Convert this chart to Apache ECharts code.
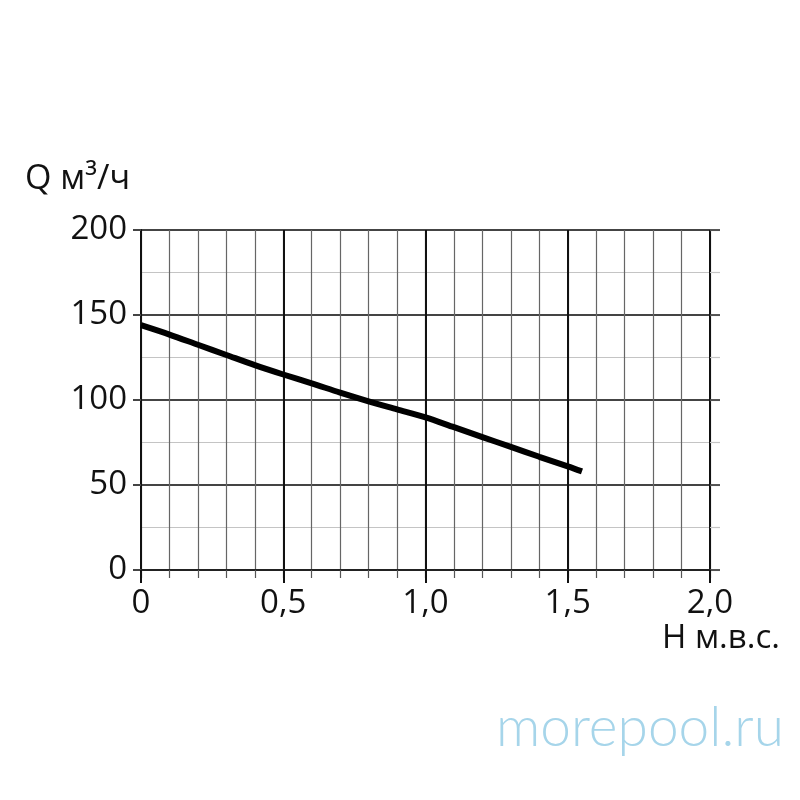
<!DOCTYPE html>
<html>
<head>
<meta charset="utf-8">
<script src="https://cdn.jsdelivr.net/npm/echarts@6/dist/echarts.min.js"></script>
<style>
  html, body { margin: 0; padding: 0; background: #fff; }
  #chart { width: 800px; height: 800px; }
</style>
</head>
<body>
<div id="chart"></div>
<script>
// напор, м в.с.
var heads = [0, 0.1, 0.2, 0.3, 0.4, 0.5, 0.6, 0.7, 0.8, 0.9, 1.0, 1.1, 1.2, 1.3, 1.4, 1.5, 1.55];
// подача, м3/ч
var flows = [144, 138.5, 132.5, 126.5, 120.5, 115, 109.8, 104.3, 99.2, 94.5, 89.8, 84, 78.2, 72.4, 66.6, 61, 58];

var FONT = '"Open Sans", sans-serif';

var chart = echarts.init(document.getElementById('chart'));

var points = heads.map(function (h, i) { return [h, flows[i]]; });

chart.setOption({
  backgroundColor: '#fff',
  animation: false,
  grid: { left: 141, right: 90, top: 230, bottom: 230 },
  xAxis: [
    { // мелкая сетка 0.1
      type: 'value', min: 0, max: 2, interval: 0.1,
      axisLine: { show: false },
      axisTick: { show: true, length: 8, lineStyle: { color: '#555', width: 1.2 } },
      axisLabel: { show: false },
      splitLine: { show: true, lineStyle: { color: '#666', width: 1.2 } }
    },
    { // крупная сетка 0.5
      type: 'value', min: 0, max: 2, interval: 0.5, position: 'bottom',
      axisLine: { show: true, lineStyle: { color: '#222', width: 2 } },
      axisTick: { show: true, length: 13, lineStyle: { color: '#111', width: 2 } },
      axisLabel: {
        show: true, margin: 17, fontSize: 33, fontFamily: FONT, color: '#111',
        formatter: function (v) { return v === 0 ? '0' : v.toFixed(1).replace('.', ','); }
      },
      splitLine: { show: true, lineStyle: { color: '#111', width: 2 } }
    }
  ],
  yAxis: [
    { // 25
      type: 'value', min: 0, max: 200, interval: 25, position: 'left',
      axisLine: { show: false }, axisTick: { show: false }, axisLabel: { show: false },
      splitLine: { show: true, lineStyle: { color: '#c4c4c4', width: 1.2 } }
    },
    { // 50
      type: 'value', min: 0, max: 200, interval: 50, position: 'left',
      axisLine: { show: true, lineStyle: { color: '#111', width: 2 } },
      axisTick: { show: true, length: 8, lineStyle: { color: '#444', width: 2 } },
      axisLabel: { show: true, margin: 14, fontSize: 33, fontFamily: FONT, color: '#111' },
      splitLine: { show: true, lineStyle: { color: '#444', width: 1.8 } }
    },
    { // хвосты справа 25
      type: 'value', min: 0, max: 200, interval: 25, position: 'right',
      axisLine: { show: false }, axisLabel: { show: false }, splitLine: { show: false },
      axisTick: { show: true, length: 10, lineStyle: { color: '#c4c4c4', width: 1.2 } }
    },
    { // хвосты справа 50
      type: 'value', min: 0, max: 200, interval: 50, position: 'right',
      axisLine: { show: false }, axisLabel: { show: false }, splitLine: { show: false },
      axisTick: { show: true, length: 10, lineStyle: { color: '#444', width: 1.8 } }
    }
  ],
  series: [{
    type: 'line',
    xAxisIndex: 1, yAxisIndex: 1,
    data: points,
    smooth: 0.3,
    symbol: 'none',
    lineStyle: { color: '#000', width: 6, cap: 'butt' }
  }],
  graphic: [
    { type: 'text', left: 25, top: 162, style: { text: 'Q м³/ч', font: '34px ' + FONT, fill: '#111' } },
    { type: 'text', left: 662, top: 622, style: { text: 'H м.в.с.', font: '33px ' + FONT, fill: '#111' } },
    { type: 'text', left: 496, top: 701, style: { text: 'morepool.ru', font: '300 55px Lato, sans-serif', fill: '#a6d5ea' } }
  ]
});
</script>
</body>
</html>
